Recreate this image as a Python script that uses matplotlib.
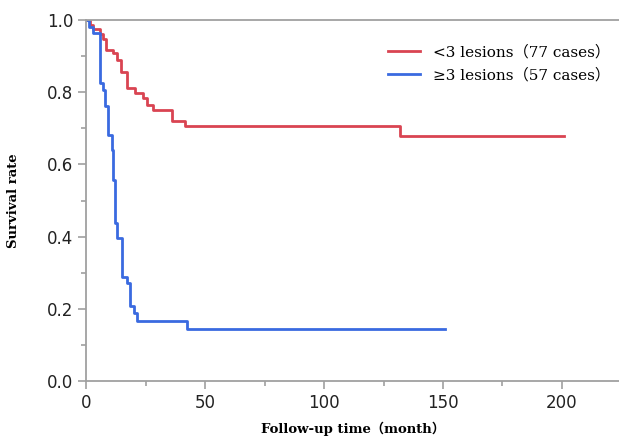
import numpy as np
import matplotlib.pyplot as plt
from matplotlib.ticker import MultipleLocator

# Kaplan-Meier step data
red_t = [0, 1.5, 3, 5.8, 7.1, 8.3, 11.3, 12.8, 14.4, 17.0, 20.5, 24, 25.4, 28.2, 35.9, 41.5, 132, 201]
red_s = [1.0, 0.987, 0.974, 0.961, 0.948, 0.917, 0.909, 0.889, 0.857, 0.811, 0.799, 0.783, 0.765,
         0.751, 0.721, 0.706, 0.680, 0.680]

blue_t = [0, 1, 3, 5.8, 7.1, 7.9, 9.3, 10.7, 11.3, 12.1, 13.0, 14.9, 17.0, 18.4, 20.0, 21.2, 42.2, 151]
blue_s = [1.0, 0.982, 0.965, 0.825, 0.807, 0.763, 0.681, 0.640, 0.557, 0.437, 0.395, 0.289, 0.271,
          0.208, 0.188, 0.165, 0.144, 0.144]

red_label = '<3 lesions（77 cases）'
blue_label = '≥3 lesions（57 cases）'

serif = ['DejaVu Serif', 'Noto Sans CJK SC']

fig = plt.figure(figsize=(6.19, 4.40), dpi=100)
ax = fig.add_axes([0.1394, 0.134, 0.8606, 0.8205])

ax.step(red_t, red_s, where='post', color='#d94452', lw=2.0, label=red_label)
ax.step(blue_t, blue_s, where='post', color='#3a6ae0', lw=2.0, label=blue_label)

ax.set_xlim(0, 224)
ax.set_ylim(0, 1.0)
ax.xaxis.set_major_locator(MultipleLocator(50))
ax.xaxis.set_minor_locator(MultipleLocator(25))
ax.yaxis.set_major_locator(MultipleLocator(0.2))
ax.yaxis.set_minor_locator(MultipleLocator(0.1))
ax.yaxis.set_major_formatter(plt.FormatStrFormatter('%.1f'))

for side in ['left', 'bottom', 'top']:
    ax.spines[side].set_color('#a0a0a0')
    ax.spines[side].set_linewidth(1.3)
ax.spines['right'].set_visible(False)

ax.tick_params(which='major', direction='out', length=6, width=1.2, color='#a0a0a0',
               labelsize=12, labelcolor='#222222')
ax.tick_params(which='minor', direction='out', length=3.5, width=1.2, color='#a0a0a0')
ax.tick_params(axis='x', which='both', top=False)

ax.set_xlabel('Follow-up time（month）', family=serif, fontsize=9.5, fontweight='bold', labelpad=7)
ax.set_ylabel('Survival rate', family=serif, fontsize=9.5, fontweight='bold', labelpad=19)

leg = ax.legend(loc='upper left', bbox_to_anchor=(0.605, 0.93), bbox_transform=fig.transFigure,
                frameon=False, handlelength=2.1, handletextpad=0.8, labelspacing=0.55,
                prop={'family': serif, 'size': 11})

fig.savefig('out.png', dpi=100)
